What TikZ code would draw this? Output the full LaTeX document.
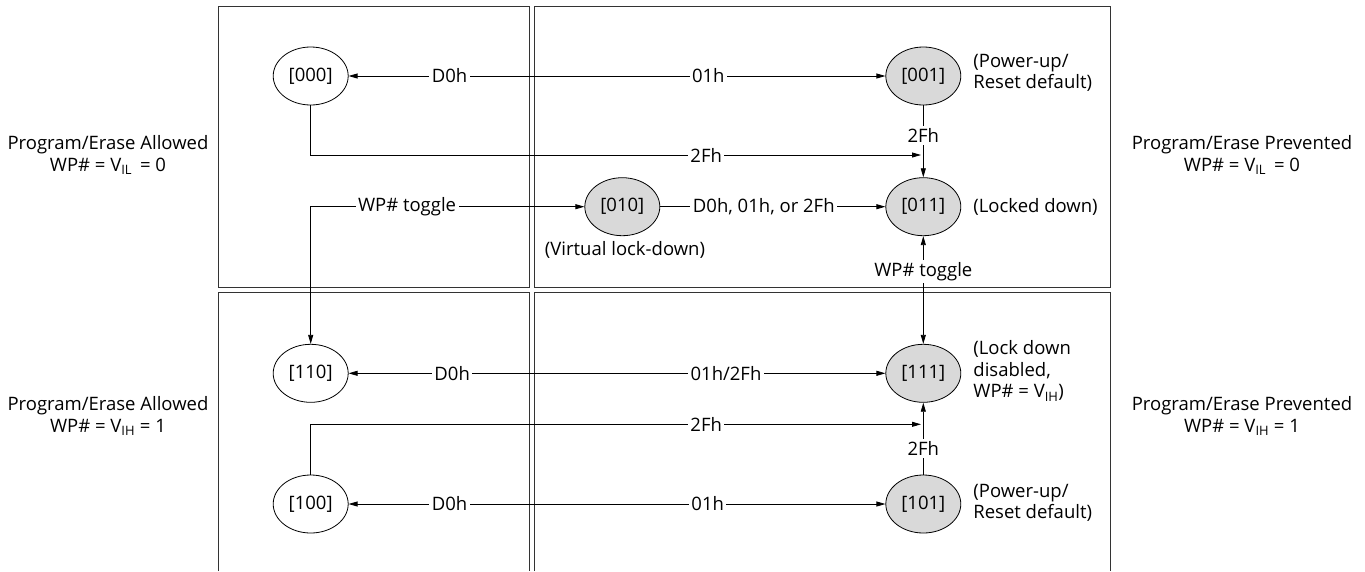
\documentclass[tikz,border=0pt]{standalone}
\usepackage{fontspec}
\setmainfont{Open Sans}
\usetikzlibrary{arrows.meta, shapes.geometric}
\definecolor{boxline}{HTML}{333333}
\definecolor{lockfill}{HTML}{D9D9D9}

\begin{document}
\begin{tikzpicture}[x=1pt, y=-1pt, line width=0.8pt, >={Triangle[length=9pt,width=5pt]},
    every node/.style={font=\fontsize{18.5}{21.5}\selectfont},
    state/.style={ellipse, draw, minimum width=75pt, minimum height=58pt, inner sep=0pt},
    locked/.style={state, fill=lockfill},
    lbl/.style={fill=white, inner sep=2.5pt},
    note/.style={anchor=west, align=left, inner sep=0pt},
    side/.style={align=center, inner sep=0pt},
    frame/.style={boxline, line width=1.2pt}]
    \useasboundingbox (0,0) rectangle (1365,571);
    \draw[frame] (218.3,6.7) rectangle (529.3,287.3);
    \draw[frame] (534.3,6.7) rectangle (1110.7,287.3);
    \draw[frame] (218.3,571) -- (218.3,292.7) -- (529.3,292.7) -- (529.3,571);
    \draw[frame] (534.3,571) -- (534.3,292.7) -- (1110.7,292.7) -- (1110.7,571);
    \node[state]  (s000) at (310.7,76)    {[000]};
    \node[locked] (s001) at (923.3,76)    {[001]};
    \node[locked] (s010) at (622.3,206.7) {[010]};
    \node[locked] (s011) at (923.3,206.7) {[011]};
    \node[state]  (s110) at (310.7,373.3) {[110]};
    \node[locked] (s111) at (923.3,373.3) {[111]};
    \node[state]  (s100) at (310.7,504)   {[100]};
    \node[locked] (s101) at (923.3,504)   {[101]};
    \coordinate (m011) at (921,155);
    \coordinate (m111) at (921,424.3);
    \draw[<->] (s000.east) -- node[lbl,pos=0.188]{D0h} node[lbl,pos=0.67]{01h} (s001.west);
    \draw[->] (s000.south) |- node[lbl,pos=0.824]{2Fh} (m011);
    \draw[->] (s001) -- node[lbl,pos=0.42]{2Fh} (s011);
    \draw[<->] (s010.west) -| node[lbl,pos=0.324]{WP\# toggle} (s110.north);
    \draw[->] (s010) -- node[lbl,pos=0.46]{D0h, 01h, or 2Fh} (s011);
    \draw[<->] (s011) -- node[lbl,pos=0.33]{WP\# toggle} (s111);
    \draw[<->] (s110.east) -- node[lbl,pos=0.193]{D0h} node[lbl,pos=0.703]{01h/2Fh} (s111.west);
    \draw[->] (s100.north) |- node[lbl,pos=0.824]{2Fh} (m111);
    \draw[->] (s101) -- node[lbl,pos=0.366]{2Fh} (s111);
    \draw[<->] (s100.east) -- node[lbl,pos=0.188]{D0h} node[lbl,pos=0.669]{01h} (s101.west);
    \node[note] (n001) at (973,73)    {(Power-up/\\Reset default)};
    \node[note] (n011) at (973,206.7) {(Locked down)};
    \node[note] (n111) at (973,371)   {(Lock down\\disabled,\\WP\# = V\textsubscript{IH})};
    \node[note] (n101) at (973,503)   {(Power-up/\\Reset default)};
    \node[inner sep=0pt] (n010) at (625,250) {(Virtual lock-down)};
    \node[side] (allow0) at (108,155)   {Program/Erase Allowed\\WP\# = V\textsubscript{IL}\, = 0};
    \node[side] (allow1) at (108,416)   {Program/Erase Allowed\\WP\# = V\textsubscript{IH} = 1};
    \node[side] (prev0)  at (1242,155)  {Program/Erase Prevented\\WP\# = V\textsubscript{IL}\, = 0};
    \node[side] (prev1)  at (1242,416)  {Program/Erase Prevented\\WP\# = V\textsubscript{IH} = 1};
\end{tikzpicture}
\end{document}
